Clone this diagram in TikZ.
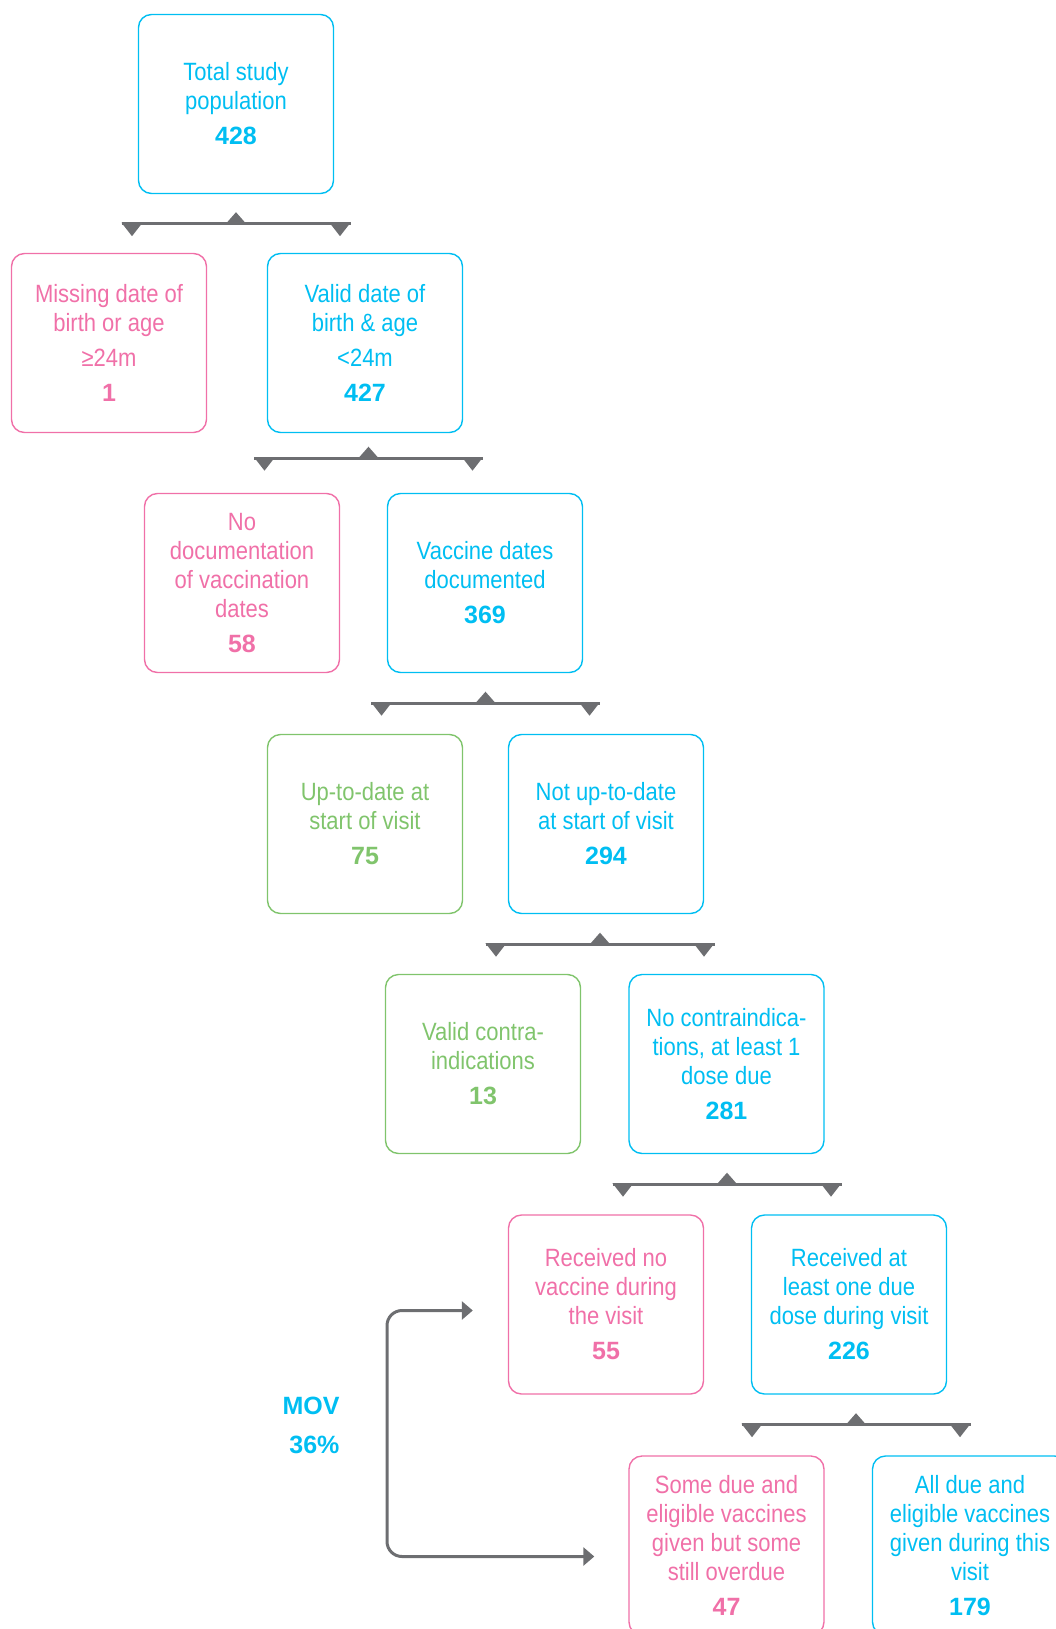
\documentclass[tikz,border=0pt]{standalone}
\usepackage{fontspec}
\setmainfont{Liberation Sans}[FakeStretch=0.88]
\newfontfamily\numfont{Liberation Sans}
\usetikzlibrary{calc, arrows.meta}

\definecolor{movcyan}{RGB}{0,190,242}
\definecolor{movpink}{RGB}{240,112,168}
\definecolor{movgreen}{RGB}{128,196,108}
\definecolor{movgray}{RGB}{109,110,113}

% count line below the box text
\newcommand{\cnt}[1]{\\[6pt]{\numfont\bfseries #1}}

% bar with one up and two down triangles under a box (#2 = shift right, #3 = drop)
\newcommand{\splitbar}[3]{%
  \coordinate (#1-bar) at ($(#1.south)+(#2,#3)$);
  \draw[movgray, line width=3pt] ($(#1-bar)+(-114.5,0)$) -- ($(#1-bar)+(114.5,0)$);
  \fill[movgray] ($(#1-bar)+(-11,1)$) -- ($(#1-bar)+(11,1)$) -- ($(#1-bar)+(0,-11.5)$) -- cycle;
  \fill[movgray] ($(#1-bar)+(-114.5,-1)$) -- ($(#1-bar)+(-93.5,-1)$) -- ($(#1-bar)+(-104,12.5)$) -- cycle;
  \fill[movgray] ($(#1-bar)+(93.5,-1)$) -- ($(#1-bar)+(114.5,-1)$) -- ($(#1-bar)+(104,12.5)$) -- cycle;
}

\tikzset{
  flowbox/.style={draw, rounded corners=13pt, line width=1.4pt, minimum width=195pt,
    minimum height=179pt, inner sep=0pt, align=center, font=\fontsize{25}{29}\selectfont},
  cyanbox/.style={flowbox, draw=movcyan, text=movcyan},
  pinkbox/.style={flowbox, draw=movpink, text=movpink},
  greenbox/.style={flowbox, draw=movgreen, text=movgreen},
  movarrow/.style={movgray, line width=3pt, rounded corners=15pt,
    {Triangle[length=11pt, width=18pt]}-{Triangle[length=11pt, width=18pt]}}
}

\begin{document}
\begin{tikzpicture}[x=1pt, y=-1pt]
  \useasboundingbox (0,0) rectangle (1056,1629);

  \node[cyanbox] (total) at (236,104) {Total study\\population\cnt{428}};

  \node[pinkbox] (missing) at (109,343) {Missing date of\\birth or age\\[6pt]≥24m\cnt{1}};
  \node[cyanbox] (valid) at (365,343) {Valid date of\\birth \& age\\[6pt]<24m\cnt{427}};

  \node[pinkbox] (nodoc) at (242,583) {No\\documentation\\of vaccination\\dates\cnt{58}};
  \node[cyanbox] (vacdoc) at (485,583) {Vaccine dates\\documented\cnt{369}};

  \node[greenbox] (uptodate) at (365,824) {Up-to-date at\\start of visit\cnt{75}};
  \node[cyanbox] (notup) at (606,824) {Not up-to-date\\at start of visit\cnt{294}};

  \node[greenbox] (contra) at (483,1064) {Valid contra-\\indications\cnt{13}};
  \node[cyanbox] (nocontra) at (726.5,1064) {No contraindica-\\tions, at least 1\\dose due\cnt{281}};

  \node[pinkbox] (recnone) at (606,1304.5) {Received no\\vaccine during\\the visit\cnt{55}};
  \node[cyanbox] (recdose) at (849,1304.5) {Received at\\least one due\\dose during visit\cnt{226}};

  \node[pinkbox] (somedue) at (726.5,1545.5) {Some due and\\eligible vaccines\\given but some\\still overdue\cnt{47}};
  \node[cyanbox] (alldue) at (970,1545.5) {All due and\\eligible vaccines\\given during this\\visit\cnt{179}};

  \splitbar{total}{0}{29.5}
  \splitbar{valid}{3.5}{25}
  \splitbar{vacdoc}{0.5}{30}
  \splitbar{notup}{-6}{30}
  \splitbar{nocontra}{0.5}{30}
  \splitbar{recdose}{7}{30}

  % missed opportunities
  \node[anchor=east, align=right, text=movcyan, font=\numfont\bfseries\fontsize{25}{39}\selectfont]
    (mov) at (343,1425) {MOV\\36\%};
  \coordinate (movtop) at ($(recnone.west)+(-35,6)$);
  \coordinate (movbot) at ($(somedue.west)+(-34,11)$);
  \coordinate (movbend) at (387,0);
  \draw[movarrow] (movtop) -| (movbend |- movbot) -- (movbot);
\end{tikzpicture}
\end{document}
